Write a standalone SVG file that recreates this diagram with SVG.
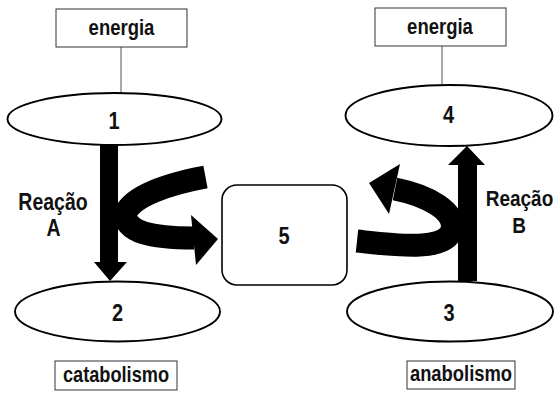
<svg xmlns="http://www.w3.org/2000/svg" width="555" height="399" viewBox="0 0 555 399">
<style>
  .box{fill:#fff;stroke:#333;stroke-width:1}
  .ell{fill:#fff;stroke:#000;stroke-width:1.9}
  .rbox{fill:#fff;stroke:#000;stroke-width:1.6}
  .ln{stroke:#555;stroke-width:1;fill:none}
  .t{font-family:"Liberation Sans",Arial,sans-serif;font-weight:bold;fill:#111;text-anchor:middle}
  .band{fill:none;stroke:#000;stroke-width:23}
  .solid{fill:#000}
</style>
<rect width="555" height="399" fill="#fff"/>
<g id="connectors">
  <line class="ln" x1="121" y1="47" x2="121" y2="93"/>
  <line class="ln" x1="442" y1="46" x2="442" y2="85"/>
</g>
<g id="energia-left">
  <rect class="box" x="56" y="9" width="131" height="38"/>
  <text class="t" font-size="18.5" transform="translate(121.5,35) scale(1,1.2)">energia</text>
</g>
<g id="energia-right">
  <rect class="box" x="375" y="8" width="131" height="38"/>
  <text class="t" font-size="18.5" transform="translate(440,34) scale(1,1.2)">energia</text>
</g>
<g id="node1">
  <ellipse class="ell" cx="114.5" cy="119" rx="107" ry="26"/>
  <text class="t" font-size="20" transform="translate(114,129) scale(1,1.2)">1</text>
</g>
<g id="node4">
  <ellipse class="ell" cx="449" cy="115.5" rx="103.5" ry="30.5"/>
  <text class="t" font-size="20" transform="translate(448.5,123) scale(1,1.2)">4</text>
</g>
<g id="reactionA">
  <rect class="solid" x="100" y="145" width="18" height="118"/>
  <polygon class="solid" points="94,262 127,262 110,281"/>
  <path class="band" d="M205.5,177 C168,184 132,196 125,214 C126,232 150,238 194,238"/>
  <polygon class="solid" points="191,215 218,239 196,265"/>
  <text class="t" font-size="19.5" transform="translate(53,210) scale(1,1.2)">Reação</text>
  <text class="t" font-size="19.5" transform="translate(53.5,236) scale(1,1.2)">A</text>
</g>
<g id="reactionB">
  <rect class="solid" x="458" y="164" width="19" height="117"/>
  <polygon class="solid" points="448,165 485,165 467,146"/>
  <path class="band" d="M357,241 C395,245 445,252 452,230 C456,212 430,196 395,189"/>
  <polygon class="solid" points="400,164 369,183 389,214"/>
  <text class="t" font-size="19" transform="translate(519.5,206) scale(1,1.2)">Reação</text>
  <text class="t" font-size="19" transform="translate(519,233) scale(1,1.2)">B</text>
</g>
<g id="node2">
  <ellipse class="ell" cx="117.5" cy="311.5" rx="102.5" ry="30"/>
  <text class="t" font-size="20" transform="translate(117.5,321) scale(1,1.2)">2</text>
</g>
<g id="node3">
  <ellipse class="ell" cx="450" cy="311.5" rx="103" ry="30"/>
  <text class="t" font-size="20" transform="translate(449,321) scale(1,1.2)">3</text>
</g>
<g id="node5">
  <rect class="rbox" x="222" y="185" width="125" height="100" rx="15"/>
  <text class="t" font-size="20" transform="translate(284,244) scale(1,1.2)">5</text>
</g>
<g id="catabolismo">
  <rect class="box" x="55" y="361" width="122" height="29"/>
  <text class="t" font-size="18.2" transform="translate(116,382) scale(1,1.2)">catabolismo</text>
</g>
<g id="anabolismo">
  <rect class="box" x="407" y="361" width="108" height="28"/>
  <text class="t" font-size="18.4" transform="translate(461,381) scale(1,1.2)">anabolismo</text>
</g>
</svg>
